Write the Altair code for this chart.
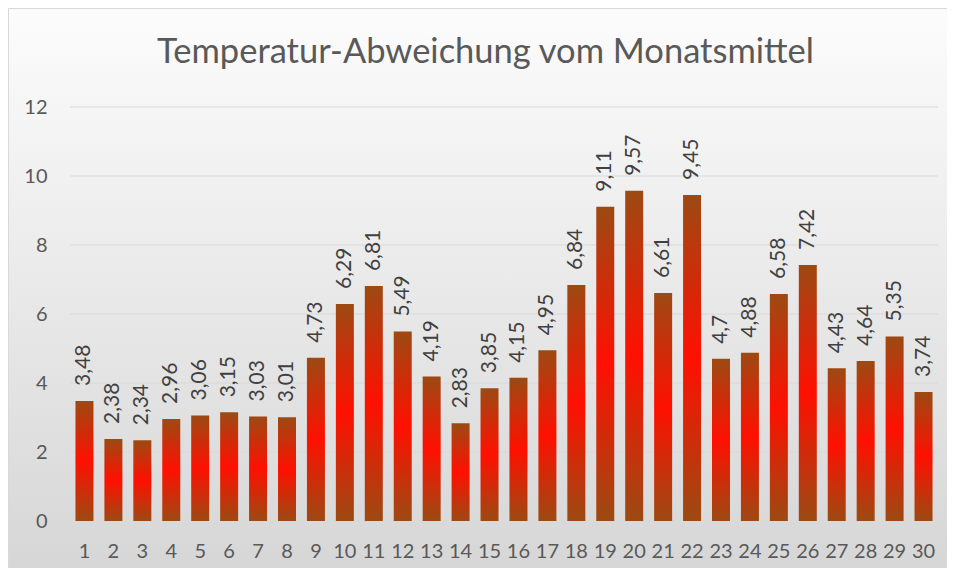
import altair as alt
import pandas as pd

days = list(range(1, 31))
values = [3.48, 2.38, 2.34, 2.96, 3.06, 3.15, 3.03, 3.01, 4.73, 6.29,
          6.81, 5.49, 4.19, 2.83, 3.85, 4.15, 4.95, 6.84, 9.11, 9.57,
          6.61, 9.45, 4.7, 4.88, 6.58, 7.42, 4.43, 4.64, 5.35, 3.74]
labels = [str(v).replace(".", ",") for v in values]
y_ticks = [0, 2, 4, 6, 8, 10, 12]
title_text = "Temperatur-Abweichung vom Monatsmittel"

df = pd.DataFrame({"Tag": days, "Wert": values, "Label": labels})
grid_df = pd.DataFrame({"Wert": y_ticks})

W, H = 868, 414
PL, PT, PR, PB = 62, 99, 9, 47

bg = alt.Chart(pd.DataFrame({"a": [0]})).mark_rect(
    fill=alt.LinearGradient(
        gradient="linear",
        stops=[alt.GradientStop(color="#fcfcfc", offset=0),
               alt.GradientStop(color="#d6d6d6", offset=1)],
        x1=0, x2=0, y1=0, y2=1),
    stroke="#d9d9d9", strokeWidth=1
).encode(
    x=alt.value(-PL + 0.5), x2=alt.value(W + PR + 6),
    y=alt.value(-PT + 0.5), y2=alt.value(H + PB + 6)
)

x_enc = alt.X(
    "Tag:O",
    scale=alt.Scale(paddingInner=0.378, paddingOuter=0.189),
    axis=alt.Axis(title=None, labelAngle=0, labelFont="Lato", labelFontSize=20,
                  labelColor="#595959", labelPadding=20, ticks=False,
                  domain=False, grid=False, zindex=2),
)
y_enc = alt.Y(
    "Wert:Q",
    scale=alt.Scale(domain=[0, 12], nice=False),
    axis=alt.Axis(title=None, values=y_ticks, labelFont="Lato", labelFontSize=20,
                  labelColor="#595959", labelPadding=23, ticks=False,
                  domain=False, grid=False, zindex=2),
)

grid = alt.Chart(grid_df).mark_rule(color="#d9d9d9", strokeWidth=1).encode(
    y=alt.Y("Wert:Q"), x=alt.value(0), x2=alt.value(W)
)

bar_fill = alt.LinearGradient(
    gradient="linear",
    stops=[alt.GradientStop(color="#9C4A13", offset=0),
           alt.GradientStop(color="#FF1000", offset=0.5),
           alt.GradientStop(color="#9C4A13", offset=1)],
    x1=0, x2=0, y1=0, y2=1)

bars = alt.Chart(df).mark_bar(color=bar_fill).encode(x=x_enc, y=y_enc)

text = alt.Chart(df).mark_text(
    angle=270, align="left", baseline="middle", dx=15,
    font="Lato", fontSize=21, color="#404040"
).encode(x=alt.X("Tag:O"), y=alt.Y("Wert:Q"), text="Label:N")

title = alt.Chart(pd.DataFrame({"t": [title_text]})).mark_text(
    font="Lato", fontSize=34.5, color="#595959", align="center",
    baseline="alphabetic"
).encode(x=alt.value(415.5), y=alt.value(-44), text="t:N")

chart = alt.layer(bg, grid, bars, text, title).properties(
    width=W, height=H,
    padding={"left": PL, "top": PT, "right": PR, "bottom": PB},
    autosize=alt.AutoSizeParams(type="none"),
    background="white",
).configure_view(stroke=None)

chart.save("out.html", embed_options={"renderer": "svg", "actions": False})
